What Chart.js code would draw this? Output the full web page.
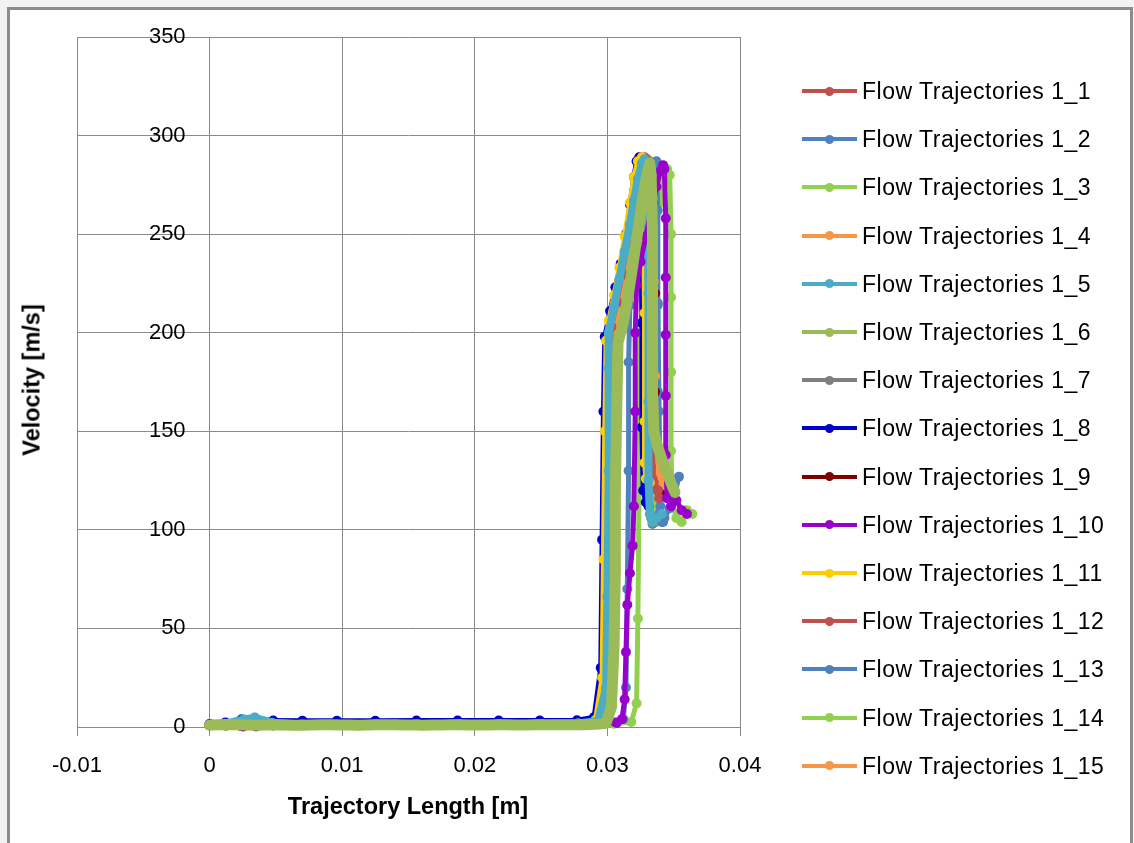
<!DOCTYPE html>
<html>
<head>
<meta charset="utf-8">
<script src="https://cdn.jsdelivr.net/npm/chart.js@4.4.1/dist/chart.umd.min.js"></script>
<style>
body { margin:0; background:#f2f2f2; width:1134px; height:843px; overflow:hidden; font-family:'Liberation Sans', Arial, sans-serif; }
#cadre { position:absolute; left:7px; top:7px; width:1126px; height:900px; box-sizing:border-box; border:3px solid #8c8c8c; background:#fff; }
#graphe { position:absolute; left:0; top:0; }
.titre { position:absolute; font-weight:bold; font-size:23.5px; color:#000; white-space:nowrap; }
#titreX { left:408px; top:806px; transform:translate(-50%,-50%); }
#titreY { left:32px; top:380px; transform:translate(-50%,-50%) rotate(-90deg); }
.ligne { position:absolute; left:802px; height:24px; line-height:24px; font-size:23px; letter-spacing:0.5px; white-space:nowrap; color:#000; }
.trait { position:absolute; left:0; top:10px; width:55px; height:4px; }
.point { position:absolute; left:23px; top:7.5px; width:9px; height:9px; border-radius:50%; }
.texte { position:absolute; left:60px; top:0; }
</style>
</head>
<body>
<div id="cadre"></div>
<canvas id="graphe" width="1134" height="843"></canvas>
<div class="titre" id="titreX">Trajectory Length [m]</div>
<div class="titre" id="titreY">Velocity [m/s]</div>
<div id="legende"></div>
<script>
// Longueur de trajectoire [m] et vitesse [m/s] pour chaque trajectoire
const len1 = [0, 0.0013, 0.0026, 0.0037, 0.005, 0.0072, 0.0098, 0.0127, 0.0158, 0.0189, 0.022, 0.0251, 0.0279, 0.0292, 0.0298, 0.0299, 0.0300, 0.0301, 0.0303, 0.0307, 0.0311, 0.0315, 0.0319, 0.0323, 0.0326, 0.0328, 0.0330, 0.0331, 0.0332, 0.0333, 0.0335, 0.0339];
const vit1 = [1.1, 1.4, 1.9, 1.6, 1.3, 1.2, 1.2, 1.3, 1.3, 1.4, 1.4, 1.5, 1.8, 3.5, 18, 64, 128, 181, 203, 216, 230, 246, 262, 277, 286, 289, 284, 248, 196, 152, 124, 116];

const len2 = [0, 0.0011, 0.0024, 0.0034, 0.0046, 0.0068, 0.0094, 0.0123, 0.0154, 0.0185, 0.0216, 0.0247, 0.0276, 0.0291, 0.0299, 0.0300, 0.0301, 0.0302, 0.0304, 0.0308, 0.0312, 0.0316, 0.0320, 0.0324, 0.0327, 0.0330, 0.0332, 0.0334, 0.0336, 0.0338, 0.0339, 0.0340, 0.0343, 0.0347, 0.0351, 0.0354];
const vit2 = [1.3, 1.8, 3.6, 4.4, 2.4, 1.5, 1.4, 1.4, 1.5, 1.5, 1.6, 1.6, 1.9, 3.8, 22, 70, 134, 184, 202, 214, 228, 243, 259, 273, 283, 288, 287, 280, 262, 214, 160, 112, 106, 111, 119, 127];

const len3 = [0, 0.0014, 0.0027, 0.0038, 0.0052, 0.0075, 0.0102, 0.0132, 0.0163, 0.0194, 0.0225, 0.0256, 0.0284, 0.0305, 0.0318, 0.0322, 0.0323, 0.0324, 0.0325, 0.0328, 0.0332, 0.0336, 0.0340, 0.0343, 0.0345, 0.0347, 0.0348, 0.0348, 0.0348, 0.0348, 0.0349, 0.0352, 0.0356, 0.0360, 0.0364];
const vit3 = [0.9, 1.2, 1.6, 1.4, 1.1, 1.0, 1.0, 1.1, 1.1, 1.2, 1.2, 1.3, 1.4, 1.6, 2.5, 12, 55, 130, 200, 222, 238, 252, 266, 277, 283, 280, 250, 218, 180, 140, 114, 106, 104, 110, 108];

const len4 = [0, 0.0012, 0.0025, 0.0036, 0.0049, 0.0070, 0.0096, 0.0125, 0.0156, 0.0187, 0.0218, 0.0249, 0.0277, 0.0292, 0.0299, 0.0300, 0.0301, 0.0302, 0.0304, 0.0308, 0.0312, 0.0316, 0.0320, 0.0324, 0.0327, 0.0330, 0.0332, 0.0334, 0.0335, 0.0336, 0.0337, 0.0339, 0.0342, 0.0345];
const vit4 = [1.2, 1.6, 2.4, 2.0, 1.5, 1.3, 1.3, 1.4, 1.4, 1.5, 1.5, 1.6, 1.9, 3.2, 15, 58, 120, 178, 200, 212, 226, 241, 257, 272, 282, 288, 285, 268, 226, 178, 140, 126, 124, 122];

const len5 = [0, 0.0012, 0.0026, 0.0034, 0.0047, 0.0069, 0.0095, 0.0124, 0.0155, 0.0186, 0.0217, 0.0248, 0.0278, 0.0293,
  0.0299, 0.0300, 0.0301, 0.0301,
  0.0301, 0.0305, 0.0309, 0.0313, 0.0317, 0.0320, 0.0323, 0.0326, 0.0328,
  0.0330, 0.0331, 0.0331, 0.0331, 0.0332, 0.0334, 0.0337, 0.0341];
const vit5 = [1.0, 1.7, 3.8, 4.6, 2.2, 1.3, 1.2, 1.3, 1.3, 1.4, 1.4, 1.5, 1.8, 3.0,
  20, 66, 130, 182,
  200, 213, 227, 241, 255, 267, 278, 286, 288,
  270, 220, 165, 125, 108, 104, 106, 108];

const len6 = [0, 0.0007, 0.0014, 0.0021, 0.0028, 0.0035, 0.0042, 0.0049, 0.0056, 0.0063, 0.0070, 0.0077, 0.0084, 0.0091, 0.0098,
  0.0105, 0.0112, 0.0119, 0.0126, 0.0133, 0.0140, 0.0147, 0.0154, 0.0161, 0.0168, 0.0175, 0.0182, 0.0189, 0.0196, 0.0203,
  0.0210, 0.0217, 0.0224, 0.0231, 0.0238, 0.0245, 0.0252, 0.0259, 0.0266, 0.0273, 0.0280, 0.0287, 0.0294, 0.0299,
  0.0303, 0.0305, 0.0306, 0.0306, 0.0307, 0.0308,
  0.0312, 0.0316, 0.0320, 0.0324, 0.0327, 0.0330, 0.0332,
  0.0333, 0.0334, 0.0334, 0.0334, 0.0335, 0.0338, 0.0342, 0.0346, 0.0349, 0.0351];
const vit6 = [1.0, 1.1, 1.3, 1.2, 1.0, 0.9, 1.0, 1.1, 1.0, 0.9, 0.9, 1.0, 1.1, 1.1, 1.0,
  1.0, 0.9, 1.0, 1.1, 1.2, 1.1, 1.0, 1.0, 0.9, 1.0, 1.0, 1.1, 1.1, 1.0, 1.0,
  1.0, 1.1, 1.1, 1.0, 1.0, 1.1, 1.2, 1.2, 1.1, 1.1, 1.2, 1.3, 1.5, 1.9,
  10, 40, 80, 120, 160, 195,
  205, 220, 238, 256, 270, 281, 286,
  280, 250, 210, 170, 150, 142, 134, 127, 122, 119];

const len7 = [0, 0.0013, 0.0025, 0.0036, 0.0049, 0.0071, 0.0097, 0.0126, 0.0157, 0.0188, 0.0219, 0.0250, 0.0278, 0.0292, 0.0299, 0.0300, 0.0301, 0.0302, 0.0304, 0.0308, 0.0312, 0.0316, 0.0320, 0.0324, 0.0327, 0.0329, 0.0331, 0.0332, 0.0332, 0.0332, 0.0333, 0.0334];
const vit7 = [1.1, 1.5, 2.0, 1.7, 1.3, 1.2, 1.2, 1.3, 1.3, 1.4, 1.4, 1.5, 1.8, 3.0, 16, 60, 124, 180, 201, 213, 227, 243, 258, 273, 283, 287, 275, 225, 170, 128, 106, 103];

const len8 = [0, 0.0012, 0.0024, 0.0035, 0.0048, 0.0070, 0.0096, 0.0125, 0.0156, 0.0187, 0.0218, 0.0249, 0.0277, 0.0290, 0.0295, 0.0296, 0.0297, 0.0298, 0.0302, 0.0306, 0.0310, 0.0314, 0.0317, 0.0320, 0.0322, 0.0324, 0.0325, 0.0326, 0.0326, 0.0327, 0.0329, 0.0331];
const vit8 = [1.5, 2.3, 3.3, 3.4, 3.3, 3.2, 3.2, 3.2, 3.3, 3.3, 3.3, 3.3, 3.4, 5, 30, 95, 160, 198, 211, 223, 235, 250, 265, 279, 287, 289, 276, 205, 152, 120, 114, 112];

const len9 = [0, 0.0011, 0.0023, 0.0034, 0.0047, 0.0069, 0.0095, 0.0124, 0.0155, 0.0186, 0.0217, 0.0248, 0.0277, 0.0292, 0.0300, 0.0301, 0.0302, 0.0303, 0.0305, 0.0309, 0.0313, 0.0317, 0.0321, 0.0325, 0.0328, 0.0330, 0.0332, 0.0334, 0.0336, 0.0336, 0.0337, 0.0339, 0.0342, 0.0344];
const vit9 = [0.8, 1.0, 0.6, 0.5, 0.9, 1.1, 1.2, 1.2, 1.3, 1.3, 1.4, 1.4, 1.7, 2.8, 14, 56, 118, 176, 199, 211, 225, 240, 256, 271, 281, 287, 284, 266, 220, 170, 130, 119, 117, 118];

const len10 = [0, 0.0012, 0.0025, 0.0035, 0.0048, 0.0070, 0.0096, 0.0125, 0.0156, 0.0187, 0.0218, 0.0249, 0.0277, 0.0296, 0.0307, 0.0311, 0.0313, 0.0314, 0.0315, 0.0317, 0.0319, 0.0320, 0.0321, 0.0321, 0.0322, 0.0325, 0.0329, 0.0333, 0.0337, 0.0340, 0.0342, 0.0343, 0.0344, 0.0344, 0.0344, 0.0344, 0.0344, 0.0345, 0.0348, 0.0352, 0.0356, 0.0360];
const vit10 = [0.9, 0.7, 0.3, 0.4, 0.8, 1.0, 1.0, 1.1, 1.1, 1.2, 1.2, 1.3, 1.4, 1.6, 2.0, 4, 14, 38, 62, 78, 92, 112, 160, 200, 224, 236, 249, 262, 274, 282, 285, 283, 258, 228, 199, 168, 138, 116, 112, 115, 110, 108];

const len11 = [0, 0.0013, 0.0026, 0.0036, 0.0049, 0.0071, 0.0097, 0.0126, 0.0157, 0.0188, 0.0219, 0.0250, 0.0278, 0.0291, 0.0296, 0.0297, 0.0298, 0.0299, 0.0301, 0.0305, 0.0309, 0.0313, 0.0317, 0.0320, 0.0323, 0.0326, 0.0327, 0.0328, 0.0328, 0.0328, 0.0329, 0.0332];
const vit11 = [1.0, 0.6, 0.2, 0.5, 1.0, 1.2, 1.2, 1.3, 1.3, 1.4, 1.4, 1.5, 1.8, 3.5, 25, 85, 150, 196, 206, 219, 233, 249, 266, 279, 287, 289, 270, 210, 155, 134, 126, 124];

const len12 = [0, 0.0012, 0.0025, 0.0035, 0.0048, 0.0070, 0.0096, 0.0125, 0.0156, 0.0187, 0.0218, 0.0249, 0.0277, 0.0291, 0.0298, 0.0299, 0.0300, 0.0301, 0.0303, 0.0307, 0.0311, 0.0315, 0.0319, 0.0323, 0.0326, 0.0329, 0.0331, 0.0332, 0.0333, 0.0333, 0.0334, 0.0336, 0.0338];
const vit12 = [1.2, 1.0, 0.4, 0.3, 0.9, 1.2, 1.3, 1.3, 1.4, 1.4, 1.5, 1.5, 1.8, 3.4, 19, 66, 130, 183, 203, 215, 229, 245, 261, 276, 285, 288, 280, 240, 190, 150, 126, 121, 120];

const len13 = [0, 0.0011, 0.0024, 0.0034, 0.0047, 0.0069, 0.0095, 0.0124, 0.0155, 0.0186, 0.0217, 0.0248, 0.0276, 0.0295, 0.0306, 0.0312, 0.0314, 0.0315, 0.0316, 0.0316, 0.0317, 0.0320, 0.0324, 0.0328, 0.0332, 0.0335, 0.0337, 0.0338, 0.0338, 0.0338, 0.0338, 0.0339, 0.0341, 0.0342];
const vit13 = [1.1, 1.9, 4.0, 4.8, 2.5, 1.4, 1.3, 1.3, 1.4, 1.4, 1.5, 1.5, 1.7, 2.0, 2.4, 4, 20, 70, 130, 185, 214, 228, 245, 262, 276, 285, 287, 262, 215, 170, 130, 108, 104, 104];

const len14 = [0, 0.0012, 0.0025, 0.0036, 0.0049, 0.0071, 0.0097, 0.0126, 0.0157, 0.0188, 0.0219, 0.0250, 0.0278, 0.0293, 0.0301, 0.0302, 0.0303, 0.0304, 0.0306, 0.0310, 0.0314, 0.0318, 0.0322, 0.0326, 0.0329, 0.0331, 0.0333, 0.0334, 0.0334, 0.0334, 0.0335, 0.0337, 0.0340];
const vit14 = [1.0, 1.3, 1.7, 1.5, 1.2, 1.1, 1.1, 1.2, 1.2, 1.3, 1.3, 1.4, 1.7, 2.9, 13, 52, 112, 172, 197, 210, 224, 239, 255, 270, 281, 287, 282, 240, 180, 130, 110, 104, 106];

const len15 = [0, 0.0013, 0.0026, 0.0037, 0.0050, 0.0072, 0.0098, 0.0127, 0.0158, 0.0189, 0.0220, 0.0251, 0.0279, 0.0294, 0.0301, 0.0302, 0.0303, 0.0304, 0.0306, 0.0310, 0.0314, 0.0318, 0.0322, 0.0325, 0.0328, 0.0330, 0.0331, 0.0332, 0.0332, 0.0332, 0.0333, 0.0336, 0.0339, 0.0342];
const vit15 = [1.3, 1.1, 0.5, 0.6, 1.0, 1.3, 1.3, 1.4, 1.4, 1.5, 1.5, 1.6, 1.9, 3.1, 12, 50, 110, 170, 196, 209, 223, 238, 254, 268, 280, 288, 282, 245, 190, 148, 130, 127, 125, 126];

const noms = ['Flow Trajectories 1_1', 'Flow Trajectories 1_2', 'Flow Trajectories 1_3', 'Flow Trajectories 1_4', 'Flow Trajectories 1_5',
  'Flow Trajectories 1_6', 'Flow Trajectories 1_7', 'Flow Trajectories 1_8', 'Flow Trajectories 1_9', 'Flow Trajectories 1_10',
  'Flow Trajectories 1_11', 'Flow Trajectories 1_12', 'Flow Trajectories 1_13', 'Flow Trajectories 1_14', 'Flow Trajectories 1_15'];

const longueurs = [len1, len2, len3, len4, len5, len6, len7, len8, len9, len10, len11, len12, len13, len14, len15];
const vitesses = [vit1, vit2, vit3, vit4, vit5, vit6, vit7, vit8, vit9, vit10, vit11, vit12, vit13, vit14, vit15];

const couleurs = ['#C0504D', '#4F81BD', '#92D050', '#F79646', '#4BACC6', '#9BBB59', '#7F7F7F', '#0000CC',
  '#800000', '#9900CC', '#FFCC00', '#C0504D', '#4F81BD', '#92D050', '#F79646'];
// ordre d'affichage (0 = dessus) et epaisseur des traits
const ordre = [6, 10, 14, 7, 2, 0, 12, 4, 9, 1, 3, 5, 11, 13, 8];
const epaisseurs = [5, 5, 5, 5, 8, 11, 5, 5, 5, 5, 5, 5, 5, 5, 5];

const police = { family: "'Liberation Sans', Arial, sans-serif", size: 22 };

// etiquettes de l'axe Y dessinees a gauche de x = 0
const etiquettesY = {
    id: 'etiquettesY',
    afterDraw(chart) {
        const ctx = chart.ctx;
        const axeY = chart.scales.y;
        const x0 = chart.scales.x.getPixelForValue(0);
        ctx.save();
        ctx.font = police.size + 'px ' + police.family;
        ctx.fillStyle = '#000';
        ctx.textAlign = 'right';
        ctx.textBaseline = 'middle';
        axeY.ticks.forEach(t => {
            ctx.fillText(t.label, x0 - 24, axeY.getPixelForValue(t.value));
        });
        ctx.restore();
    }
};

function legende() {
    const zone = document.getElementById('legende');
    noms.forEach((nom, i) => {
        const ligne = document.createElement('div');
        ligne.className = 'ligne';
        ligne.style.top = (91 + i * 48.2 - 12) + 'px';
        ligne.innerHTML = '<span class="trait" style="background:' + couleurs[i] + '"></span>'
            + '<span class="point" style="background:' + couleurs[i] + '"></span>'
            + '<span class="texte">' + nom + '</span>';
        zone.appendChild(ligne);
    });
}

function graphe() {
    const datasets = noms.map((nom, i) => {
        return {
            label: nom,
            data: longueurs[i].map((x, k) => ({ x: x, y: vitesses[i][k] })),
            showLine: true,
            borderColor: couleurs[i],
            backgroundColor: couleurs[i],
            pointBackgroundColor: couleurs[i],
            pointBorderColor: couleurs[i],
            borderWidth: epaisseurs[i],
            pointRadius: 5,
            pointBorderWidth: 0,
            borderJoinStyle: 'round',
            borderCapStyle: 'round',
            tension: 0,
            clip: false,
            order: ordre[i]
        };
    });
    new Chart(document.getElementById('graphe'), {
        type: 'scatter',
        data: { datasets: datasets },
        plugins: [etiquettesY],
        options: {
            responsive: false,
            animation: false,
            layout: { padding: { left: 77, top: 37, right: 394, bottom: 116 } },
            plugins: { legend: { display: false }, tooltip: { enabled: false } },
            scales: {
                x: {
                    type: 'linear',
                    position: { y: 0 },
                    min: -0.01,
                    max: 0.04,
                    ticks: { stepSize: 0.01, padding: 18, color: '#000', font: police },
                    grid: { color: '#8a8a8a', lineWidth: 1, tickLength: 8 },
                    border: { color: '#8a8a8a' }
                },
                y: {
                    type: 'linear',
                    position: { x: 0 },
                    min: 0,
                    max: 350,
                    ticks: { stepSize: 50, display: false },
                    grid: { color: '#8a8a8a', lineWidth: 1, tickLength: 8 },
                    border: { color: '#8a8a8a' }
                }
            }
        }
    });
}

legende();
graphe();
</script>
</body>
</html>
